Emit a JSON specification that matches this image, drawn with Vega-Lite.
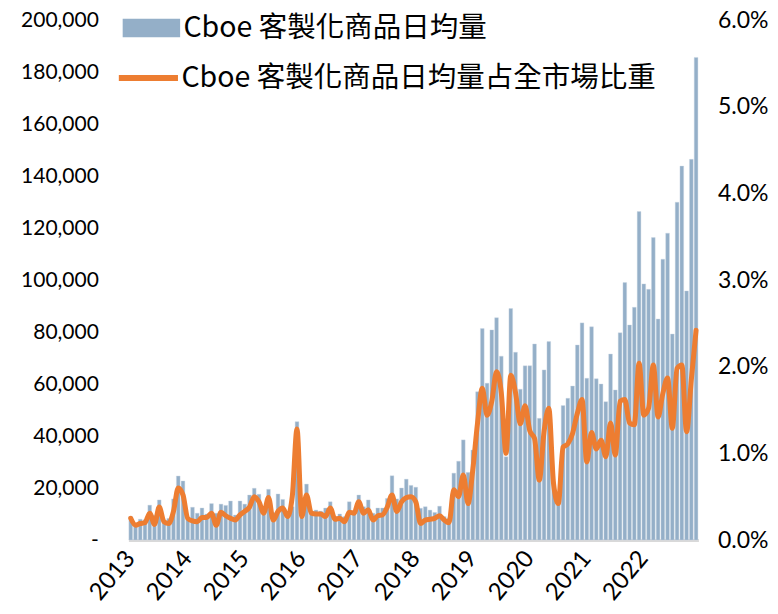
{
  "$schema": "https://vega.github.io/schema/vega-lite/v6.json",
  "width": 570,
  "height": 520,
  "autosize": {"type": "none"},
  "padding": {"left": 128.4, "top": 20, "right": 79.6, "bottom": 74},
  "background": "white",
  "config": {
    "view": {"stroke": null},
    "font": "Lato",
    "axis": {"labelColor": "#000000", "labelFont": "Lato", "grid": false, "ticks": false, "title": null}
  },
  "data": {
    "values": [
      {"m": "2013-01", "v": 9000, "p": 0.25}, {"m": "2013-02", "v": 5500, "p": 0.17}, {"m": "2013-03", "v": 8000, "p": 0.19}, {"m": "2013-04", "v": 7800, "p": 0.2}, {"m": "2013-05", "v": 13400, "p": 0.31}, {"m": "2013-06", "v": 9500, "p": 0.18}, {"m": "2013-07", "v": 15400, "p": 0.38}, {"m": "2013-08", "v": 7700, "p": 0.21}, {"m": "2013-09", "v": 8300, "p": 0.19}, {"m": "2013-10", "v": 15800, "p": 0.33}, {"m": "2013-11", "v": 24600, "p": 0.6}, {"m": "2013-12", "v": 22700, "p": 0.52},
      {"m": "2014-01", "v": 8000, "p": 0.25}, {"m": "2014-02", "v": 12600, "p": 0.22}, {"m": "2014-03", "v": 10300, "p": 0.21}, {"m": "2014-04", "v": 12300, "p": 0.26}, {"m": "2014-05", "v": 10000, "p": 0.26}, {"m": "2014-06", "v": 14000, "p": 0.31}, {"m": "2014-07", "v": 10300, "p": 0.17}, {"m": "2014-08", "v": 13800, "p": 0.32}, {"m": "2014-09", "v": 13300, "p": 0.28}, {"m": "2014-10", "v": 15000, "p": 0.25}, {"m": "2014-11", "v": 9600, "p": 0.23}, {"m": "2014-12", "v": 15000, "p": 0.29},
      {"m": "2015-01", "v": 13800, "p": 0.33}, {"m": "2015-02", "v": 17300, "p": 0.38}, {"m": "2015-03", "v": 19900, "p": 0.5}, {"m": "2015-04", "v": 17600, "p": 0.44}, {"m": "2015-05", "v": 11500, "p": 0.31}, {"m": "2015-06", "v": 19500, "p": 0.49}, {"m": "2015-07", "v": 10500, "p": 0.23}, {"m": "2015-08", "v": 17700, "p": 0.33}, {"m": "2015-09", "v": 15600, "p": 0.37}, {"m": "2015-10", "v": 10500, "p": 0.27}, {"m": "2015-11", "v": 12800, "p": 0.5}, {"m": "2015-12", "v": 45500, "p": 1.28},
      {"m": "2016-01", "v": 9000, "p": 0.27}, {"m": "2016-02", "v": 21500, "p": 0.52}, {"m": "2016-03", "v": 10500, "p": 0.31}, {"m": "2016-04", "v": 11500, "p": 0.3}, {"m": "2016-05", "v": 11100, "p": 0.3}, {"m": "2016-06", "v": 12300, "p": 0.27}, {"m": "2016-07", "v": 14700, "p": 0.37}, {"m": "2016-08", "v": 9000, "p": 0.24}, {"m": "2016-09", "v": 10000, "p": 0.25}, {"m": "2016-10", "v": 9000, "p": 0.21}, {"m": "2016-11", "v": 14700, "p": 0.32}, {"m": "2016-12", "v": 11000, "p": 0.31},
      {"m": "2017-01", "v": 17300, "p": 0.44}, {"m": "2017-02", "v": 12800, "p": 0.31}, {"m": "2017-03", "v": 15400, "p": 0.35}, {"m": "2017-04", "v": 10300, "p": 0.23}, {"m": "2017-05", "v": 12300, "p": 0.28}, {"m": "2017-06", "v": 12300, "p": 0.29}, {"m": "2017-07", "v": 16000, "p": 0.38}, {"m": "2017-08", "v": 24700, "p": 0.52}, {"m": "2017-09", "v": 15800, "p": 0.33}, {"m": "2017-10", "v": 20000, "p": 0.44}, {"m": "2017-11", "v": 23400, "p": 0.49}, {"m": "2017-12", "v": 21000, "p": 0.5},
      {"m": "2018-01", "v": 20300, "p": 0.44}, {"m": "2018-02", "v": 12200, "p": 0.19}, {"m": "2018-03", "v": 12800, "p": 0.23}, {"m": "2018-04", "v": 11500, "p": 0.24}, {"m": "2018-05", "v": 10600, "p": 0.25}, {"m": "2018-06", "v": 13000, "p": 0.28}, {"m": "2018-07", "v": 9000, "p": 0.23}, {"m": "2018-08", "v": 8500, "p": 0.2}, {"m": "2018-09", "v": 25700, "p": 0.58}, {"m": "2018-10", "v": 30300, "p": 0.5}, {"m": "2018-11", "v": 38500, "p": 0.75}, {"m": "2018-12", "v": 26000, "p": 0.42},
      {"m": "2019-01", "v": 34600, "p": 0.81}, {"m": "2019-02", "v": 57000, "p": 1.35}, {"m": "2019-03", "v": 81300, "p": 1.75}, {"m": "2019-04", "v": 60300, "p": 1.44}, {"m": "2019-05", "v": 80800, "p": 1.6}, {"m": "2019-06", "v": 85500, "p": 1.94}, {"m": "2019-07", "v": 70700, "p": 1.7}, {"m": "2019-08", "v": 32000, "p": 1.0}, {"m": "2019-09", "v": 89000, "p": 1.9}, {"m": "2019-10", "v": 72200, "p": 1.7}, {"m": "2019-11", "v": 58000, "p": 1.34}, {"m": "2019-12", "v": 67000, "p": 1.55},
      {"m": "2020-01", "v": 67000, "p": 1.26}, {"m": "2020-02", "v": 75400, "p": 1.17}, {"m": "2020-03", "v": 46800, "p": 0.69}, {"m": "2020-04", "v": 65400, "p": 1.25}, {"m": "2020-05", "v": 76300, "p": 1.52}, {"m": "2020-06", "v": 22000, "p": 0.65}, {"m": "2020-07", "v": 14000, "p": 0.42}, {"m": "2020-08", "v": 51700, "p": 1.07}, {"m": "2020-09", "v": 54500, "p": 1.11}, {"m": "2020-10", "v": 59200, "p": 1.23}, {"m": "2020-11", "v": 75000, "p": 1.46}, {"m": "2020-12", "v": 83500, "p": 1.62},
      {"m": "2021-01", "v": 62200, "p": 0.9}, {"m": "2021-02", "v": 82000, "p": 1.24}, {"m": "2021-03", "v": 62000, "p": 1.05}, {"m": "2021-04", "v": 60000, "p": 1.15}, {"m": "2021-05", "v": 53200, "p": 0.96}, {"m": "2021-06", "v": 71500, "p": 1.35}, {"m": "2021-07", "v": 57700, "p": 0.98}, {"m": "2021-08", "v": 79700, "p": 1.6}, {"m": "2021-09", "v": 99000, "p": 1.62}, {"m": "2021-10", "v": 82700, "p": 1.35}, {"m": "2021-11", "v": 89500, "p": 1.33}, {"m": "2021-12", "v": 126300, "p": 2.04},
      {"m": "2022-01", "v": 98500, "p": 1.44}, {"m": "2022-02", "v": 96400, "p": 1.52}, {"m": "2022-03", "v": 116300, "p": 2.02}, {"m": "2022-04", "v": 85000, "p": 1.42}, {"m": "2022-05", "v": 108000, "p": 1.69}, {"m": "2022-06", "v": 118000, "p": 1.87}, {"m": "2022-07", "v": 79200, "p": 1.29}, {"m": "2022-08", "v": 129900, "p": 1.98}, {"m": "2022-09", "v": 143800, "p": 2.02}, {"m": "2022-10", "v": 95800, "p": 1.25}, {"m": "2022-11", "v": 146400, "p": 1.85}, {"m": "2022-12", "v": 185600, "p": 2.42}
    ]
  },
  "encoding": {
    "x": {
      "field": "m",
      "type": "ordinal",
      "sort": null,
      "scale": {"paddingInner": 0.22, "paddingOuter": 0.1},
      "axis": {
        "labelExpr": "slice(datum.value, 5) == '01' ? slice(datum.value, 0, 4) : ''",
        "labelAngle": -50,
        "labelAlign": "right",
        "labelBaseline": "middle",
        "labelFontSize": 24,
        "labelPadding": 14,
        "labelOverlap": false,
        "domainColor": "#D9D9D9",
        "domainWidth": 3
      }
    }
  },
  "layer": [
    {
      "mark": {"type": "bar", "stroke": "#C9D6E3", "strokeWidth": 0.4},
      "encoding": {
        "y": {
          "field": "v",
          "type": "quantitative",
          "scale": {"domain": [0, 200000], "nice": false},
          "axis": {
            "orient": "left",
            "values": [0, 20000, 40000, 60000, 80000, 100000, 120000, 140000, 160000, 180000, 200000],
            "labelExpr": "datum.value == 0 ? '-' : format(datum.value, ',')",
            "labelFontSize": 21,
            "labelPadding": 30,
            "domain": false
          }
        },
        "fill": {
          "datum": "Cboe 客製化商品日均量",
          "scale": {"range": ["#94AFC8"]},
          "legend": {
            "orient": "none",
            "legendX": -6,
            "legendY": -21,
            "title": null,
            "symbolType": "M-1,-0.32H1V0.32H-1Z",
            "symbolSize": 3300,
            "symbolStrokeWidth": 0,
            "labelFont": "Noto Sans CJK TC",
            "labelFontSize": 28.5,
            "labelColor": "#000000",
            "labelLimit": 1000,
            "labelOffset": 3
          }
        }
      }
    },
    {
      "mark": {"type": "line", "strokeWidth": 5, "interpolate": "monotone", "strokeCap": "round", "strokeJoin": "round"},
      "encoding": {
        "y": {
          "field": "p",
          "type": "quantitative",
          "scale": {"domain": [0, 6], "nice": false},
          "axis": {
            "orient": "right",
            "values": [0, 1, 2, 3, 4, 5, 6],
            "labelExpr": "format(datum.value, '.1f') + '%'",
            "labelFontSize": 23,
            "labelPadding": 19,
            "domain": false
          }
        },
        "stroke": {
          "datum": "Cboe 客製化商品日均量占全市場比重",
          "scale": {"range": ["#ED7D31"]},
          "legend": {
            "orient": "none",
            "legendX": -13,
            "legendY": 25,
            "title": null,
            "symbolType": "stroke",
            "symbolSize": 3500,
            "symbolStrokeWidth": 6,
            "labelFont": "Noto Sans CJK TC",
            "labelFontSize": 28.5,
            "labelColor": "#000000",
            "labelLimit": 1000,
            "labelOffset": 0
          }
        }
      }
    }
  ],
  "resolve": {"scale": {"y": "independent", "fill": "independent", "stroke": "independent"}}
}
